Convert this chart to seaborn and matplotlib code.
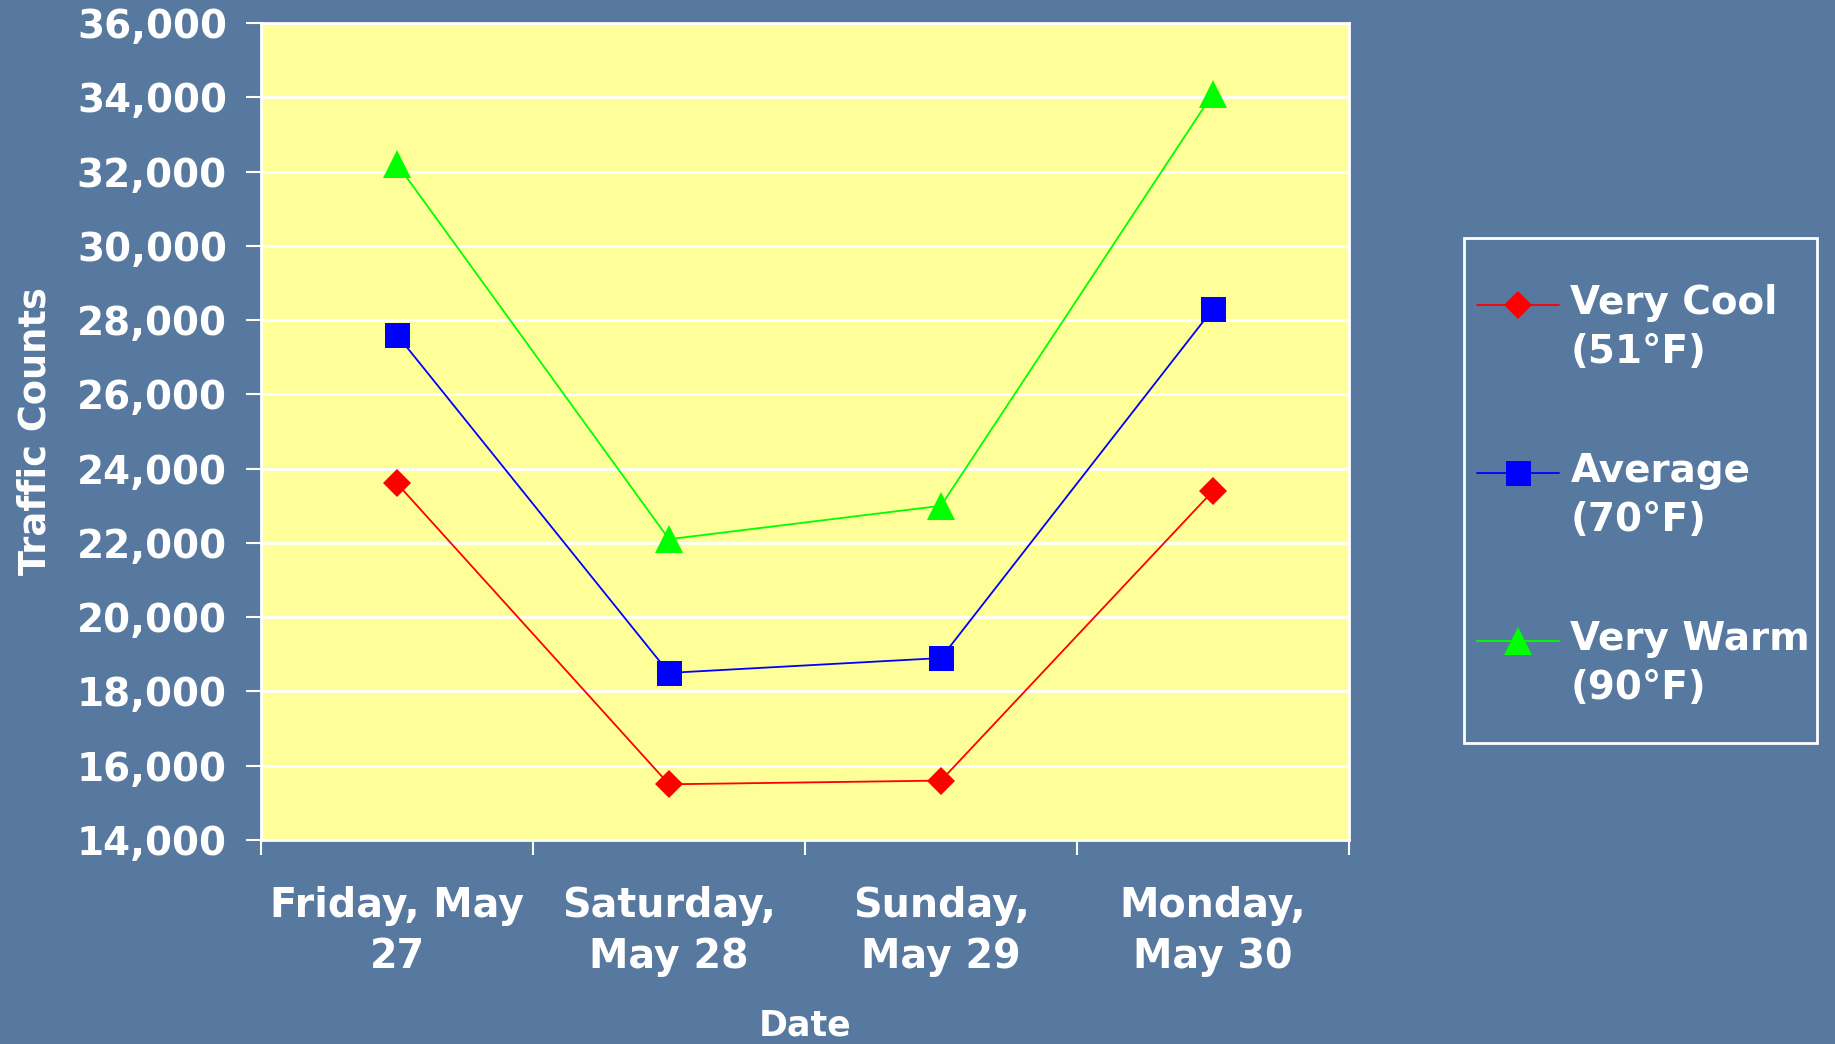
import numpy as np
import pandas as pd
import seaborn as sns
import matplotlib.pyplot as plt
from matplotlib.patches import Rectangle

days = ["Friday, May\n27", "Saturday,\nMay 28", "Sunday,\nMay 29", "Monday,\nMay 30"]
series_names = ["Very Cool\n(51°F)", "Average\n(70°F)", "Very Warm\n(90°F)"]
very_cool = [23600, 15500, 15600, 23400]
average = [27600, 18500, 18900, 28300]
very_warm = [32200, 22100, 23000, 34100]
y_ticks = list(range(14000, 36001, 2000))

colors = ["#ff0000", "#0000ff", "#00ff00"]
markers = ["D", "s", "^"]
msizes = [14, 18, 20]

df = pd.DataFrame({
    "day": np.tile(np.arange(len(days)), 3),
    "count": very_cool + average + very_warm,
    "series": np.repeat(series_names, len(days)),
})

sns.set_style("white")
plt.rcParams["font.family"] = ["DejaVu Sans"]
plt.rcParams["font.weight"] = "bold"

bg = "#57799f"
fig = plt.figure(figsize=(18.35, 10.44), dpi=100, facecolor=bg)
ax = fig.add_axes([261 / 1835, 1 - 840 / 1044, (1349 - 261) / 1835, (840 - 23) / 1044])
ax.set_facecolor("#ffff99")

for name, c, m, ms in zip(series_names, colors, markers, msizes):
    sub = df[df["series"] == name]
    sns.lineplot(data=sub, x="day", y="count", ax=ax, color=c, marker=m,
                 markersize=ms, markeredgewidth=0, linewidth=1.3, label=name)

ax.set_xlim(-0.5, len(days) - 0.5)
ax.set_ylim(y_ticks[0], y_ticks[-1])
ax.set_yticks(y_ticks)
ax.set_yticklabels([f"{v:,}" for v in y_ticks])
ax.grid(axis="y", color="white", linewidth=2)
ax.set_axisbelow(True)

# category boundaries get the tick marks, labels sit in between
ax.set_xticks(np.arange(-0.5, len(days)), minor=False)
ax.set_xticklabels([""] * (len(days) + 1))
ax.set_xticks(np.arange(len(days)), minor=True)
ax.set_xticklabels(days, minor=True, fontsize=28.5, color="white",
                   fontweight="bold", linespacing=1.35)
ax.tick_params(axis="x", which="minor", length=0, pad=33)
ax.tick_params(axis="x", which="major", length=11, width=1.5, color="white",
               direction="out", bottom=True)
ax.tick_params(axis="y", length=11, width=1.5, color="white", direction="out",
               left=True, labelsize=28, labelcolor="white", pad=13.5)
for lab in ax.get_yticklabels():
    lab.set_fontweight("bold")

for s in ax.spines.values():
    s.set_color("white")
    s.set_linewidth(2)

ax.set_xlabel("Date", fontsize=25, color="white", fontweight="bold")
ax.set_ylabel("Traffic Counts", fontsize=26.5, color="white", fontweight="bold")
ax.xaxis.set_label_coords(0.5, -0.206)
ax.yaxis.set_label_coords(-0.1905, 0.5)

ax.get_legend().remove()
handles, labels = ax.get_legend_handles_labels()
fs = 28
leg = fig.legend(handles, labels, loc="upper left",
                 bbox_to_anchor=(1477 / 1835, 1 - 284 / 1044),
                 frameon=False, fontsize=fs, labelcolor="white",
                 handlelength=2.1, handletextpad=0.3, labelspacing=2.1,
                 borderpad=0, borderaxespad=0, numpoints=1,
                 prop={"weight": "bold", "size": fs})
for t in leg.get_texts():
    t.set_linespacing(1.35)
    t.set_color("white")
# move each handle up to line up with the first text line
for h in leg.legend_handles:
    h.set_ydata(np.asarray(h.get_ydata()) + 0.62 * fs)

fig.patches.append(Rectangle((1464 / 1835, 1 - 743 / 1044), (1817 - 1464) / 1835,
                             (743 - 238) / 1044, transform=fig.transFigure,
                             fill=False, edgecolor="white", linewidth=2))

fig.savefig("out.png", dpi=100, facecolor=bg)
